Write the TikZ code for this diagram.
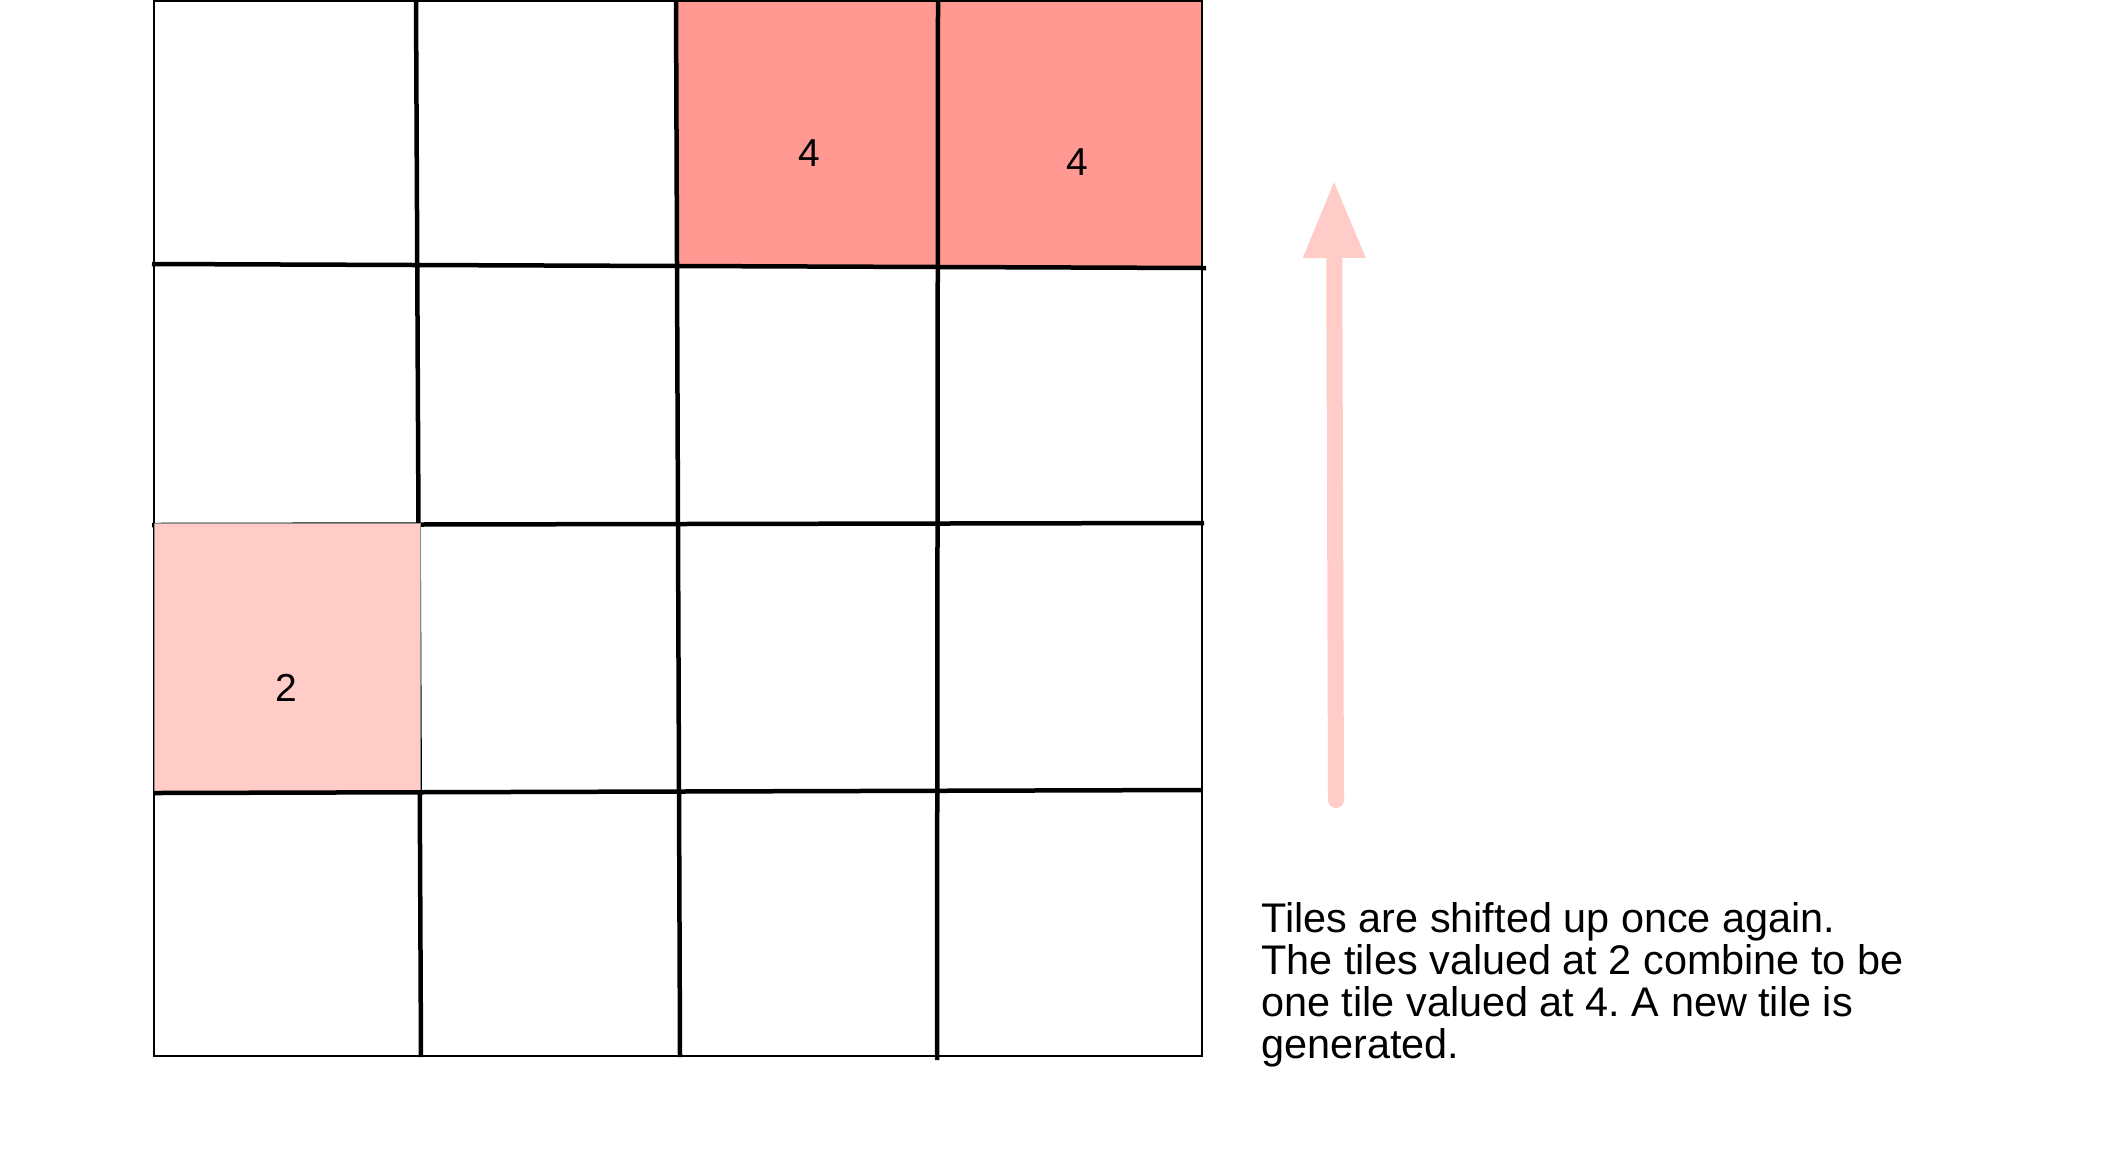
\documentclass[tikz,border=0pt]{standalone}
\usepackage{fontspec}
\setmainfont{Liberation Sans}
\usetikzlibrary{arrows.meta}
\definecolor{tilefour}{HTML}{FF9992}
\definecolor{tiletwo}{HTML}{FFCCC7}
\frenchspacing
\begin{document}
\begin{tikzpicture}[x=0.5pt,y=-0.5pt,
  gridline/.style={line width=2.25pt,black},
  border/.style={line width=1.25pt,black},
  fourtile/.style={fill=tilefour},
  twotile/.style={fill=tiletwo,draw=black!45,line width=0.4pt},
  numlabel/.style={inner sep=0pt,font=\fontsize{19.5}{22}\selectfont},
  caption/.style={inner sep=0pt,anchor=north west,align=left,font=\fontsize{20.7}{21}\selectfont},
  bigarrow/.style={draw=tiletwo,line width=8pt,line cap=round,-{Triangle[length=39pt,width=29pt]}}]
\useasboundingbox (0,0) rectangle (2112,1169);
% highlighted tiles (value 4)
\path[fourtile] (676,1) rectangle (938,266);
\path[fourtile] (938,1) rectangle (1202,266);
% outer border
\draw[border] (154,1) rectangle (1202,1056);
% column lines
\draw[gridline] (416,0) -- (421,1057);
\draw[gridline] (676,0) -- (680,1057);
\draw[gridline] (938,0) -- (937,1060);
% row lines
\draw[gridline] (152,264) -- (1206,268);
\draw[gridline] (152,525) -- (1204,523);
% tile value 2
\path[twotile] (154,523) rectangle (420,792);
\draw[gridline] (154,793) -- (1202,790);
% labels
\node[numlabel] (fourA) at (809,153) {4};
\node[numlabel] (fourB) at (1077,162) {4};
\node[numlabel] (two) at (286,688) {2};
% arrow
\coordinate (atail) at (1336,800);
\coordinate (ahead) at (1334,180);
\draw[bigarrow] (atail) -- (ahead);
% caption
\node[caption] (cap) at (1261,902) {Tiles are shifted up once again.\\The tiles valued at 2 combine to be\\one tile valued at 4. A new tile is\\generated.};
\end{tikzpicture}
\end{document}
